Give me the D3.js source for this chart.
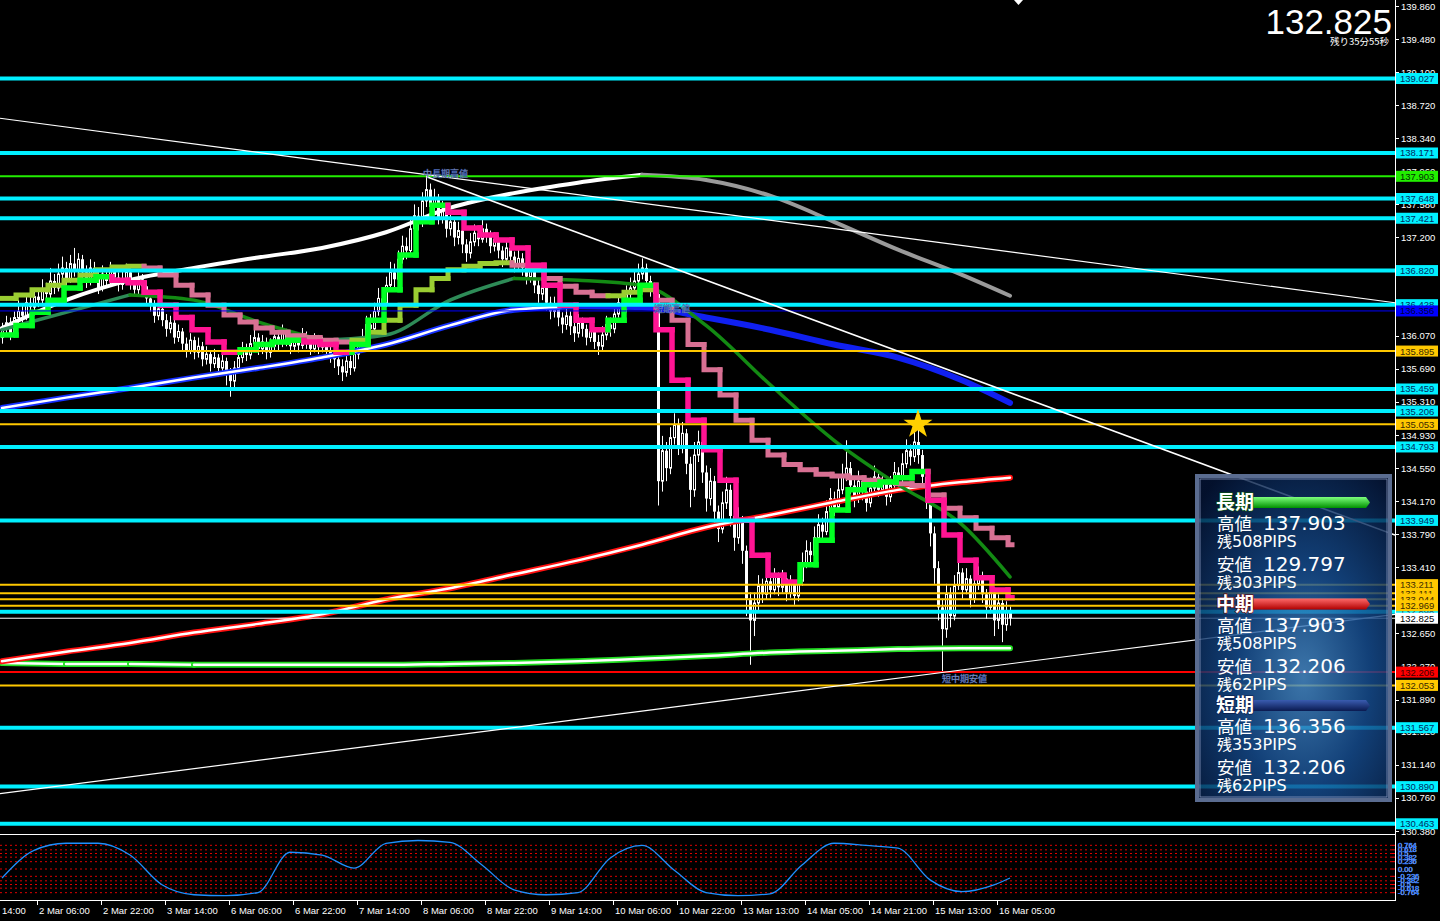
<!DOCTYPE html>
<html><head><meta charset="utf-8">
<script src="https://cdn.jsdelivr.net/npm/d3@7/dist/d3.min.js"></script>
<style>html,body{margin:0;padding:0;background:#000;overflow:hidden;}svg{display:block}</style>
</head><body>
<svg id="chart" width="1440" height="921"></svg>
<script>
// ===== DATA =====
const opens=[136.05,136.15,136.22,136.10,136.28,136.35,136.30,136.45,136.40,136.52,
136.48,136.60,136.55,136.70,136.62,136.78,136.85,136.72,136.90,136.82,
136.95,136.80,136.70,136.85,136.75,136.62,136.78,136.70,136.82,136.74,
136.66,136.72,136.80,136.68,136.60,136.72,136.64,136.50,136.42,136.30,
136.38,136.25,136.15,136.22,136.05,136.12,135.98,135.90,136.02,135.88,
135.95,135.80,135.86,135.75,135.82,135.70,135.78,135.62,135.55,135.70,
135.82,135.90,135.85,135.98,136.05,135.92,136.00,135.88,135.95,136.06,
135.98,136.10,136.02,135.95,136.04,135.96,136.08,136.00,135.92,136.02,
135.94,135.98,135.90,135.84,135.80,135.72,135.65,135.78,135.70,135.86,
135.95,136.05,136.20,136.15,136.35,136.50,136.45,136.65,136.80,136.72,
136.95,137.10,137.05,137.30,137.45,137.38,137.62,137.75,137.55,137.65,
137.42,137.50,137.30,137.38,137.20,137.28,137.12,137.02,137.15,137.25,
137.18,137.30,137.22,137.10,137.18,137.05,136.95,137.08,136.98,136.90,
136.96,136.85,136.75,136.82,136.65,136.55,136.62,136.45,136.35,136.42,
136.28,136.20,136.30,136.18,136.10,136.22,136.15,136.05,136.12,136.00,
135.95,136.08,136.20,136.15,136.32,136.45,136.38,136.55,136.62,136.70,
136.78,136.85,136.70,136.62,136.55,134.40,134.75,134.55,134.90,135.05,
134.80,134.95,134.60,134.30,134.70,134.85,134.50,134.20,134.40,134.05,
133.85,134.15,134.30,134.00,133.75,133.95,133.60,133.05,132.80,133.00,
133.20,133.10,133.25,133.15,133.30,133.18,133.28,133.12,133.22,133.08,
133.25,133.45,133.60,133.55,133.75,133.90,133.82,134.05,134.20,134.10,
134.30,134.45,134.55,134.35,134.20,134.40,134.28,134.15,134.32,134.45,
134.30,134.38,134.22,134.35,134.50,134.42,134.60,134.75,134.68,134.85,
134.70,134.45,134.20,133.80,133.40,132.95,132.70,133.10,132.85,133.20,
133.35,133.15,133.28,133.05,133.22,133.30,133.10,132.95,133.12,132.80,
133.00,132.75,132.90];
const highs=[136.22,136.30,136.28,136.35,136.48,136.42,136.55,136.52,136.62,136.60,
136.72,136.68,136.85,136.78,136.90,136.98,136.92,137.00,137.08,137.02,
137.00,136.88,136.95,136.92,136.80,136.88,136.85,136.92,136.88,136.80,
136.82,136.90,136.84,136.74,136.80,136.78,136.70,136.58,136.48,136.46,
136.42,136.32,136.30,136.26,136.20,136.16,136.05,136.10,136.06,136.05,
136.00,135.95,135.90,135.92,135.86,135.88,135.82,135.70,135.78,135.90,
136.00,135.98,136.08,136.15,136.10,136.08,136.05,136.04,136.14,136.12,
136.20,136.15,136.08,136.12,136.10,136.16,136.12,136.06,136.10,136.08,
136.06,136.04,135.96,135.92,135.86,135.80,135.86,135.84,135.94,136.05,
136.15,136.30,136.32,136.45,136.62,136.60,136.75,136.92,136.90,137.05,
137.22,137.20,137.42,137.58,137.55,137.72,137.90,137.82,137.76,137.70,
137.62,137.55,137.48,137.42,137.38,137.32,137.18,137.25,137.35,137.32,
137.40,137.36,137.28,137.26,137.22,137.10,137.18,137.14,137.04,137.06,
137.02,136.92,136.90,136.86,136.72,136.72,136.66,136.52,136.52,136.46,
136.34,136.40,136.35,136.24,136.32,136.28,136.20,136.22,136.16,136.08,
136.18,136.30,136.28,136.42,136.55,136.52,136.65,136.74,136.82,136.90,
136.96,136.90,136.76,136.68,136.58,134.92,134.85,135.02,135.18,135.12,
135.08,135.00,134.68,134.85,134.98,134.90,134.58,134.55,134.46,134.12,
134.28,134.45,134.36,134.06,134.10,134.00,133.66,133.12,133.12,133.32,
133.28,133.36,133.30,133.40,133.35,133.38,133.32,133.32,133.26,133.36,
133.58,133.72,133.70,133.88,134.02,133.98,134.18,134.32,134.28,134.45,
134.60,134.87,134.62,134.42,134.52,134.46,134.34,134.44,134.58,134.50,
134.48,134.42,134.46,134.62,134.56,134.72,134.88,134.82,134.98,135.05,
134.76,134.52,134.26,133.88,133.48,133.05,133.22,133.18,133.32,133.48,
133.40,133.40,133.32,133.35,133.42,133.36,133.16,133.24,133.18,133.10,
133.05,133.02,132.96];
const lows=[135.98,136.08,136.02,136.05,136.20,136.22,136.25,136.32,136.35,136.40,
136.42,136.45,136.50,136.55,136.58,136.70,136.65,136.68,136.75,136.78,
136.72,136.62,136.65,136.68,136.55,136.58,136.62,136.66,136.68,136.58,
136.60,136.68,136.60,136.52,136.55,136.55,136.42,136.35,136.22,136.25,
136.18,136.06,136.10,135.98,136.00,135.90,135.82,135.86,135.80,135.82,
135.72,135.74,135.66,135.70,135.60,135.64,135.50,135.37,135.48,135.66,
135.76,135.78,135.80,135.92,135.85,135.86,135.80,135.82,135.90,135.90,
135.94,135.95,135.86,135.90,135.88,135.92,135.92,135.85,135.88,135.86,
135.88,135.82,135.76,135.70,135.62,135.55,135.60,135.62,135.66,135.80,
135.90,136.00,136.06,136.10,136.30,136.36,136.40,136.60,136.62,136.68,
136.90,136.95,137.00,137.25,137.28,137.32,137.55,137.45,137.48,137.35,
137.36,137.20,137.22,137.10,137.12,137.02,136.92,136.96,137.10,137.10,
137.14,137.14,137.02,137.04,136.96,136.86,136.90,136.90,136.80,136.84,
136.76,136.66,136.68,136.56,136.45,136.48,136.36,136.26,136.28,136.18,
136.10,136.14,136.08,136.00,136.05,136.06,135.96,136.00,135.92,135.85,
135.90,136.02,136.06,136.10,136.28,136.30,136.34,136.48,136.56,136.64,
136.72,136.62,136.52,136.44,134.12,134.28,134.40,134.48,134.82,134.70,
134.72,134.48,134.10,134.22,134.62,134.38,134.05,134.12,133.92,133.70,
133.80,134.08,133.88,133.60,133.68,133.45,132.85,132.29,132.62,132.92,
133.00,133.04,133.06,133.10,133.08,133.12,133.02,133.06,132.98,133.02,
133.20,133.40,133.45,133.50,133.70,133.72,133.78,134.00,134.00,134.05,
134.25,134.40,134.25,134.10,134.15,134.18,134.05,134.10,134.28,134.22,
134.24,134.12,134.16,134.30,134.32,134.38,134.55,134.58,134.62,134.60,
134.35,134.08,133.65,133.22,132.80,132.21,132.60,132.72,132.80,133.15,
133.05,133.10,132.95,133.00,133.15,133.00,132.82,132.88,132.62,132.70,
132.55,132.68,132.74];
const closes=[136.15,136.22,136.10,136.28,136.35,136.30,136.45,136.40,136.52,136.48,
136.60,136.55,136.70,136.62,136.78,136.85,136.72,136.90,136.82,136.95,
136.80,136.70,136.85,136.75,136.62,136.78,136.70,136.82,136.74,136.66,
136.72,136.80,136.68,136.60,136.72,136.64,136.50,136.42,136.30,136.38,
136.25,136.15,136.22,136.05,136.12,135.98,135.90,136.02,135.88,135.95,
135.80,135.86,135.75,135.82,135.70,135.78,135.62,135.55,135.70,135.82,
135.90,135.85,135.98,136.05,135.92,136.00,135.88,135.95,136.06,135.98,
136.10,136.02,135.95,136.04,135.96,136.08,136.00,135.92,136.02,135.94,
135.98,135.90,135.84,135.80,135.72,135.65,135.78,135.70,135.86,135.95,
136.05,136.20,136.15,136.35,136.50,136.45,136.65,136.80,136.72,136.95,
137.10,137.05,137.30,137.45,137.38,137.62,137.75,137.55,137.65,137.42,
137.50,137.30,137.38,137.20,137.28,137.12,137.02,137.15,137.25,137.18,
137.30,137.22,137.10,137.18,137.05,136.95,137.08,136.98,136.90,136.96,
136.85,136.75,136.82,136.65,136.55,136.62,136.45,136.35,136.42,136.28,
136.20,136.30,136.18,136.10,136.22,136.15,136.05,136.12,136.00,135.95,
136.08,136.20,136.15,136.32,136.45,136.38,136.55,136.62,136.70,136.78,
136.85,136.70,136.62,136.55,134.40,134.75,134.55,134.90,135.05,134.80,
134.95,134.60,134.30,134.70,134.85,134.50,134.20,134.40,134.05,133.85,
134.15,134.30,134.00,133.75,133.95,133.60,133.05,132.80,133.00,133.20,
133.10,133.25,133.15,133.30,133.18,133.28,133.12,133.22,133.08,133.25,
133.45,133.60,133.55,133.75,133.90,133.82,134.05,134.20,134.10,134.30,
134.45,134.55,134.35,134.20,134.40,134.28,134.15,134.32,134.45,134.30,
134.38,134.22,134.35,134.50,134.42,134.60,134.75,134.68,134.85,134.70,
134.45,134.20,133.80,133.40,132.95,132.70,133.10,132.85,133.20,133.35,
133.15,133.28,133.05,133.22,133.30,133.10,132.95,133.12,132.80,133.00,
132.75,132.90,132.825];

// time axis labels (bar index of each tick)
const timeLabels=["1 Mar 14:00","2 Mar 06:00","2 Mar 22:00","3 Mar 14:00","6 Mar 06:00","6 Mar 22:00","7 Mar 14:00","8 Mar 06:00","8 Mar 22:00","9 Mar 14:00","10 Mar 06:00","10 Mar 22:00","13 Mar 13:00","14 Mar 05:00","14 Mar 21:00","15 Mar 13:00","16 Mar 05:00"];
const timeLabelBars=[-7,9,25,41,57,73,89,105,121,137,153,169,185,201,217,233,249];

// price axis ticks
const priceTicks=[139.860,139.480,139.100,138.720,138.340,137.960,137.580,137.200,136.820,136.440,136.070,135.690,135.310,134.930,134.550,134.170,133.790,133.410,133.030,132.650,132.270,131.890,131.520,131.140,130.760,130.380];

// horizontal levels
const cyanLevels=[139.027,138.171,137.648,137.421,136.820,136.428,135.459,135.206,134.793,133.949,132.898,131.567,130.890,130.463];
const yellowLevels=[135.895,135.053,133.211,133.111,133.044,132.969,132.053];
const greenLevel=137.903, blueLevel=136.356, redLevel=132.206, currentPrice=132.825;

// multi-timeframe moving averages: one value per 4-bar block
const maShort=[136.08,136.19,136.34,136.48,136.62,136.71,136.75,136.71,136.68,136.57,136.42,136.28,136.14,136.00,135.88,135.91,135.97,136.00,136.02,136.00,135.97,135.88,135.97,136.25,136.60,137.00,137.38,137.57,137.49,137.31,137.23,137.17,137.08,136.88,136.65,136.42,136.25,136.14,136.25,136.48,136.65,136.14,135.56,135.10,134.76,134.41,133.95,133.55,133.32,133.24,133.44,133.72,134.07,134.30,134.36,134.39,134.44,134.51,134.18,133.78,133.49,133.29,133.15,133.06];
const maMid=[136.50,136.54,136.60,136.65,136.71,136.77,136.83,136.86,136.87,136.85,136.77,136.65,136.54,136.42,136.31,136.23,136.16,136.11,136.07,136.05,136.02,136.00,136.02,136.11,136.25,136.42,136.60,136.73,136.83,136.87,136.90,136.91,136.88,136.83,136.73,136.64,136.57,136.53,136.53,136.57,136.60,136.48,136.25,135.97,135.68,135.39,135.10,134.87,134.70,134.59,134.53,134.48,134.46,134.44,134.41,134.39,134.37,134.35,134.24,134.09,133.98,133.86,133.75,133.67];
// slower averages sampled every 16 bars
const maBars=[0,16,32,48,64,80,96,112,128,144,160,176,192,208,224,240,252];
const maSlowGreen=[136.14,136.34,136.54,136.48,136.23,136.02,136.08,136.48,136.73,136.71,136.65,136.19,135.51,134.87,134.36,133.90,133.30];
const maWhite=[136.16,136.48,136.71,136.85,136.97,137.08,137.26,137.54,137.71,137.83,137.92,137.86,137.68,137.38,137.06,136.77,136.53];
const maBlue=[135.24,135.36,135.47,135.59,135.70,135.82,135.97,136.19,136.37,136.41,136.40,136.28,136.14,135.97,135.82,135.56,135.30];
const maRed=[132.33,132.44,132.54,132.66,132.76,132.87,133.04,133.17,133.33,133.49,133.67,133.87,134.01,134.16,134.30,134.39,134.44];
const maGreen=[132.31,132.30,132.30,132.29,132.29,132.29,132.29,132.30,132.31,132.33,132.36,132.39,132.43,132.45,132.47,132.48,132.48];

// oscillator (sub window)
const oscBars=[0,8,16,24,32,40,48,56,64,72,80,88,96,104,112,120,128,136,144,152,160,168,176,184,192,200,208,216,224,232,240,248,252];
const oscVals=[-0.29,0.60,0.83,0.83,0.45,-0.51,-0.83,-0.86,-0.76,0.54,0.45,0.03,0.83,0.92,0.86,0.13,-0.67,-0.83,-0.76,0.35,0.76,-0.03,-0.76,-0.86,-0.80,0.13,0.83,0.76,0.67,-0.35,-0.73,-0.51,-0.29];
const oscLevels=[0.764,0.618,0.5,0.382,0.236,0,-0.236,-0.382,-0.5,-0.618,-0.764];
const oscLevelLabels=["0.764","0.618","0.5","0.382","0.236","0.00","-0.236","-0.382","-0.5","-0.618","-0.764"];

// trend lines [barIndex, price]
const trendStart=[[-0.5,138.57],[106,137.90],[-0.5,130.81]];
const trendEnd=[[348.25,136.45],[348.25,133.78],[348.25,132.87]];

// panel
const termNames=["長期","中期","短期"];
const termHighs=[137.903,137.903,136.356];
const termHighPips=[508,508,353];
const termLows=[129.797,132.206,132.206];
const termLowPips=[303,62,62];

// ===== DRAW =====
const svg=d3.select('#chart');
svg.append('rect').attr('width',1440).attr('height',921).attr('fill','#000');
const PR=1395, MB=833;
const x=d3.scaleLinear().domain([0,252]).range([2,1010]);
const y=d3.scaleLinear().domain([130.380,139.860]).range([831,6]);
const oy=d3.scaleLinear().domain([-1,1]).range([900,838]);
const defs=svg.append('defs');
defs.append('clipPath').attr('id','cm').append('rect').attr('x',0).attr('y',0).attr('width',PR).attr('height',MB);
defs.append('clipPath').attr('id','co').append('rect').attr('x',0).attr('y',835).attr('width',PR).attr('height',64);

const main=svg.append('g').attr('clip-path','url(#cm)');
const bars=d3.range(closes.length);

// candles
const cg=main.append('g');
cg.selectAll('line').data(bars).join('line')
 .attr('x1',i=>x(i)+0.5).attr('x2',i=>x(i)+0.5)
 .attr('y1',i=>y(highs[i])).attr('y2',i=>y(lows[i]))
 .attr('stroke','#fff').attr('stroke-width',1);
cg.selectAll('rect').data(bars).join('rect')
 .attr('x',i=>closes[i]>opens[i]?x(i)-0.5:x(i)-1)
 .attr('width',i=>closes[i]>opens[i]?2:3)
 .attr('y',i=>y(Math.max(opens[i],closes[i])))
 .attr('height',i=>Math.max(1,Math.abs(y(opens[i])-y(closes[i]))))
 .attr('fill',i=>closes[i]>opens[i]?'#000':'#fff')
 .attr('stroke',i=>closes[i]>opens[i]?'#fff':'none').attr('stroke-width',1);

// step MAs
function stepMA(vals,up,down,w){
  const g=main.append('g');
  vals.forEach((v,k)=>{
    const prev=k>0?vals[k-1]:v;
    const x0=x(4*k)-2, x1=Math.min(x(4*k+4)-2,x(252)+2);
    g.append('path').attr('d',`M${x0},${y(prev)}V${y(v)}H${x1}`)
     .attr('fill','none').attr('stroke',v>=prev?up:down).attr('stroke-width',w)
     .attr('stroke-linecap','square').attr('stroke-linejoin','miter');
  });
}
// smooth MAs with direction colors
function smoothMA(vals,upC,downC,w,coreUp,coreDown,coreW){
  const pts=maBars.map((b,k)=>[x(b),y(vals[k])]);
  const runs=[];let cur=[pts[0]],dir=null;
  for(let k=1;k<vals.length;k++){
    const d=vals[k]>=vals[k-1]?'up':'down';
    if(dir===null)dir=d;
    if(d!==dir){runs.push({dir,pts:cur});cur=[pts[k-1]];dir=d;}
    cur.push(pts[k]);
  }
  runs.push({dir,pts:cur});
  const line=d3.line().curve(d3.curveMonotoneX);
  runs.forEach(r=>{
    main.append('path').attr('d',line(r.pts)).attr('fill','none')
      .attr('stroke',r.dir==='up'?upC:downC).attr('stroke-width',w).attr('stroke-linecap','round');
    const core=r.dir==='up'?coreUp:coreDown;
    if(core) main.append('path').attr('d',line(r.pts)).attr('fill','none')
      .attr('stroke',core).attr('stroke-width',coreW).attr('stroke-linecap','round');
  });
}
smoothMA(maGreen,'#22dd22','#22dd22',6,'#ffffff','#ffffff',2.5);
smoothMA(maRed,'#ff1010','#ff1010',6,'#ffffff','#ffffff',2.5);
smoothMA(maBlue,'#1530ff','#1020f0',6,'#ffffff',null,2.5);
smoothMA(maWhite,'#ffffff','#9a9a9a',4,null,null,0);
smoothMA(maSlowGreen,'#2e8b57','#138a13',3.5,null,null,0);
stepMA(maMid,'#9acd32','#d87093',5);
stepMA(maShort,'#00ff22','#ff1493',5.5);

// horizontal levels
const lg=main.append('g');
function hline(p,c,w){lg.append('line').attr('x1',0).attr('x2',PR).attr('y1',y(p)).attr('y2',y(p)).attr('stroke',c).attr('stroke-width',w);}
yellowLevels.forEach(p=>hline(p,'#ffc800',2));
hline(greenLevel,'#22ee00',2);
hline(blueLevel,'#0000ff',1);
hline(redLevel,'#ff0000',2);
hline(currentPrice,'#ffffff',1);
cyanLevels.forEach(p=>hline(p,'#00f0ff',4));

// trend lines
trendStart.forEach((s,k)=>{
  const e=trendEnd[k];
  main.append('line').attr('x1',x(s[0])).attr('y1',y(s[1])).attr('x2',x(e[0])).attr('y2',y(e[1]))
   .attr('stroke','#ffffff').attr('stroke-width',k===1?1.6:1.2);
});

// chart annotations
const jp="'Noto Sans CJK JP','Noto Sans CJK SC',sans-serif";
function ann(t,xx,yy){main.append('text').attr('x',xx).attr('y',yy).text(t)
  .attr('font-family',jp).attr('font-size',9).attr('fill','#d8d8e8')
  .attr('stroke','#3050a0').attr('stroke-width',0.4);}
ann('中長期高値',x(106)-3,y(greenLevel)+0.5);
ann('短期高値',x(163),y(blueLevel)+1);
ann('短中期安値',x(235),y(redLevel)+10);
// star
main.append('path').attr('d',d3.symbol(d3.symbolStar).size(260)())
 .attr('transform',`translate(${x(229)},${y(135.053)})`).attr('fill','#ffd000');

// ===== oscillator =====
const og=svg.append('g').attr('clip-path','url(#co)');
oscLevels.forEach(l=>og.append('line').attr('x1',0).attr('x2',PR).attr('y1',oy(l)).attr('y2',oy(l))
  .attr('stroke','#e00000').attr('stroke-width',1).attr('stroke-dasharray','2,3'));
og.append('path').datum(oscBars.map((b,k)=>[x(b),oy(oscVals[k])]))
 .attr('d',d3.line().curve(d3.curveMonotoneX)).attr('fill','none').attr('stroke','#1e90ff').attr('stroke-width',1.3);

// ===== frames =====
svg.append('line').attr('x1',PR+0.5).attr('x2',PR+0.5).attr('y1',0).attr('y2',901).attr('stroke','#fff');
svg.append('line').attr('x1',0).attr('x2',PR).attr('y1',834.5).attr('y2',834.5).attr('stroke','#fff');
svg.append('line').attr('x1',0).attr('x2',PR+1).attr('y1',900.5).attr('y2',900.5).attr('stroke','#fff');
svg.append('path').attr('d','M1014,0H1023L1018.5,5Z').attr('fill','#fff');

const af="'Liberation Sans',Arial,sans-serif";
// price axis
const ax=svg.append('g').attr('font-family',af).attr('font-size',9.5).attr('fill','#fff');
priceTicks.forEach(p=>{
  ax.append('line').attr('x1',PR).attr('x2',PR+4).attr('y1',Math.round(y(p))+0.5).attr('y2',Math.round(y(p))+0.5).attr('stroke','#fff');
  ax.append('text').attr('x',1401).attr('y',y(p)+3.5).text(p.toFixed(3));
});
function tag(p,bg,fg){
  ax.append('rect').attr('x',PR+1).attr('y',y(p)-5.5).attr('width',42).attr('height',11).attr('fill',bg);
  ax.append('text').attr('x',1400).attr('y',y(p)+3.5).text(p.toFixed(3)).attr('fill',fg);
}
cyanLevels.forEach(p=>tag(p,'#00f0ff','#002a60'));
yellowLevels.forEach(p=>tag(p,'#ffc800','#3a2800'));
tag(greenLevel,'#22ee00','#003000');
tag(blueLevel,'#0000ff','#000040');
tag(redLevel,'#ff0000','#400000');
tag(currentPrice,'#ffffff','#000000');
// osc labels (overlapping, as in the terminal)
oscLevels.forEach((l,k)=>{
  ax.append('line').attr('x1',PR-3).attr('x2',PR).attr('y1',oy(l)).attr('y2',oy(l)).attr('stroke','#ff0000');
  ax.append('text').attr('x',1398).attr('y',oy(l)+2.5).text(oscLevelLabels[k]).attr('font-size',7.5)
   .attr('stroke','#1e70ff').attr('stroke-width',0.4);
});

// time axis
const tx=svg.append('g').attr('font-family',af).attr('font-size',9.5).attr('fill','#fff');
timeLabelBars.forEach((b,k)=>{
  tx.append('line').attr('x1',x(b)-0.5).attr('x2',x(b)-0.5).attr('y1',901).attr('y2',905).attr('stroke','#fff');
  tx.append('text').attr('x',x(b)+1).attr('y',914).text(timeLabels[k]);
});

// big price + timer
svg.append('text').attr('x',1392).attr('y',34).attr('text-anchor','end').text(currentPrice.toFixed(3))
 .attr('font-family',af).attr('font-size',35).attr('fill','#fff');
svg.append('text').attr('x',1389).attr('y',45).attr('text-anchor','end').text('残り35分55秒')
 .attr('font-family',jp).attr('font-size',9.5).attr('fill','#fff');

// ===== info panel =====
const pg=defs.append('radialGradient').attr('id','pgr').attr('cx','55%').attr('cy','62%').attr('r','75%');
pg.append('stop').attr('offset','0%').attr('stop-color','#4a90d0');
pg.append('stop').attr('offset','45%').attr('stop-color','#164e92');
pg.append('stop').attr('offset','100%').attr('stop-color','#041436');
function barGrad(id,c1,c2){const g=defs.append('linearGradient').attr('id',id).attr('x1',0).attr('x2',0).attr('y1',0).attr('y2',1);
 g.append('stop').attr('offset','0%').attr('stop-color',c1);g.append('stop').attr('offset','100%').attr('stop-color',c2);}
barGrad('bg0','#7dff7d','#009000');barGrad('bg1','#ff6a6a','#b00000');barGrad('bg2','#3a5cb0','#0a1a50');
const P=svg.append('g');
P.append('rect').attr('x',1195).attr('y',474).attr('width',197).attr('height',328).attr('fill','url(#pgr)').attr('fill-opacity',0.82);
P.append('rect').attr('x',1197).attr('y',476).attr('width',193).attr('height',324).attr('fill','none').attr('stroke','#5a6c90').attr('stroke-width',4);
P.append('rect').attr('x',1200).attr('y',479).attr('width',187).attr('height',318).attr('fill','none').attr('stroke','#8a9ac0').attr('stroke-width',0.8);
const nf="'DejaVu Sans','Noto Sans CJK JP',sans-serif";
termNames.forEach((n,k)=>{
  const b=509+101.5*k;
  P.append('path').attr('d',`M1253,${b-12}H1366L1370,${b-6.5}L1366,${b-1}H1253Z`).attr('fill',`url(#bg${k})`);
  P.append('text').attr('x',1216).attr('y',b).text(n).attr('font-family',jp).attr('font-size',19).attr('font-weight','bold')
   .attr('fill','#fff').attr('stroke',['#0a5a0a','#700000','#0a1a4a'][k]).attr('stroke-width',1.2).attr('paint-order','stroke');
  const rows=[[b+21,'高値',termHighs[k].toFixed(3)],[b+62,'安値',termLows[k].toFixed(3)]];
  rows.forEach(r=>{
    P.append('text').attr('x',1217).attr('y',r[0]).text(r[1]).attr('font-family',jp).attr('font-size',17.5).attr('fill','#fff');
    P.append('text').attr('x',1263).attr('y',r[0]).text(r[2]).attr('font-family',nf).attr('font-size',20).attr('fill','#fff');
  });
  const pips=[[b+38,termHighPips[k]],[b+79,termLowPips[k]]];
  pips.forEach(r=>{
    P.append('text').attr('x',1217).attr('y',r[0]).text('残').attr('font-family',jp).attr('font-size',15).attr('fill','#fff');
    P.append('text').attr('x',1232).attr('y',r[0]).text(r[1]+'PIPS').attr('font-family',nf).attr('font-size',16).attr('fill','#fff');
  });
});
</script>
</body></html>
